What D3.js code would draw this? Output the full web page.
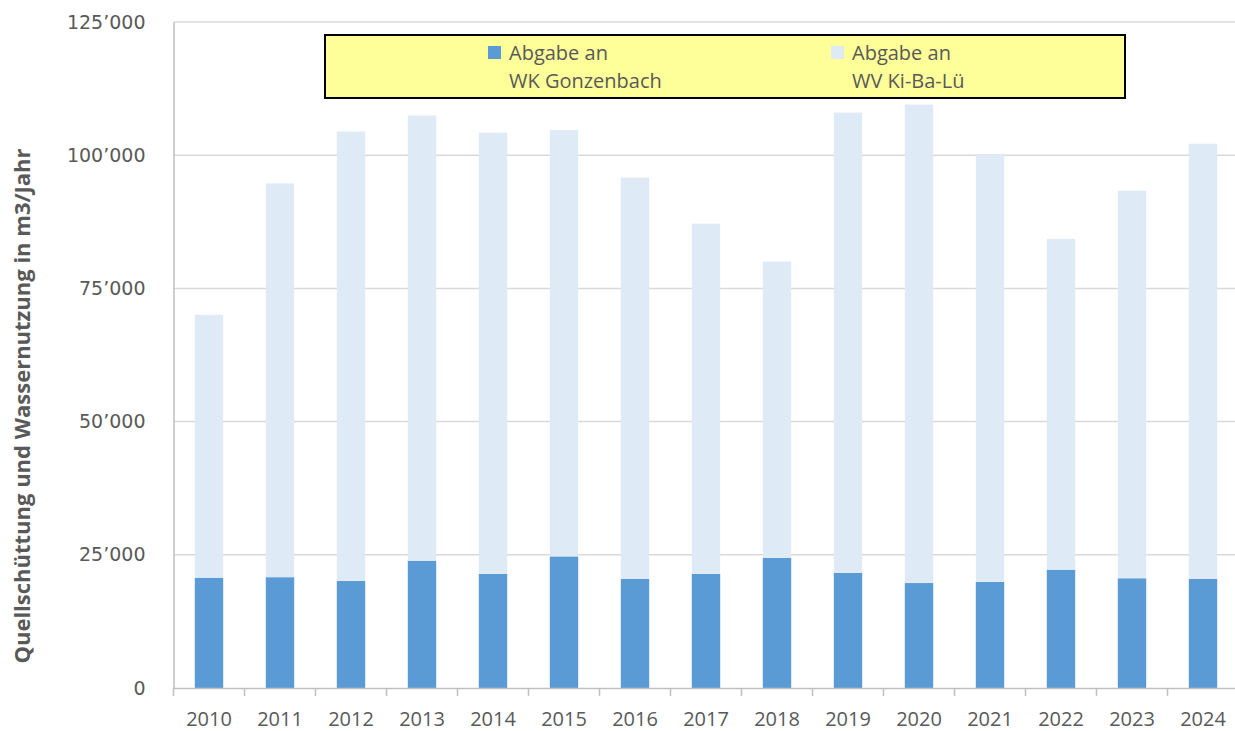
<!DOCTYPE html>
<html>
<head>
<meta charset="utf-8">
<script src="https://cdn.jsdelivr.net/npm/d3@7"></script>
<style>
  body { margin: 0; background: #fff; }
  svg { display: block; }
</style>
</head>
<body>
<svg id="chart" width="1235" height="731"></svg>
<script>
const years = ["2010","2011","2012","2013","2014","2015","2016","2017","2018","2019","2020","2021","2022","2023","2024"];
// Abgabe an WK Gonzenbach (m3/Jahr)
const gonzenbach = [20700, 20800, 20100, 23900, 21400, 24700, 20500, 21400, 24400, 21600, 19700, 19900, 22200, 20600, 20500];
// total per year (Gonzenbach + Ki-Ba-Lü)
const totals = [70050, 94700, 104450, 107450, 104250, 104700, 95800, 87150, 80050, 108000, 109500, 100250, 84300, 93350, 102150];
const kibalu = totals.map((t, i) => t - gonzenbach[i]);
const yTicks = [0, 25000, 50000, 75000, 100000, 125000];
const seriesNames = [["Abgabe an", "WK Gonzenbach"], ["Abgabe an", "WV Ki-Ba-Lü"]];
const colors = ["#5b9bd5", "#deebf7"];

const svg = d3.select("#chart");
const plotLeft = 173.5, plotRight = 1238.5, plotTop = 22, plotBottom = 688;

const x = d3.scaleBand()
  .domain(years)
  .range([plotLeft, plotRight])
  .paddingInner(0.6)
  .paddingOuter(0.3);

const y = d3.scaleLinear()
  .domain([0, 125000])
  .range([plotBottom, plotTop]);

const fmt = v => d3.format(",")(v).replace(/,/g, "\u2019");

// gridlines
svg.append("g")
  .selectAll("line")
  .data(yTicks.filter(d => d > 0))
  .join("line")
  .attr("x1", plotLeft).attr("x2", 1235)
  .attr("y1", d => y(d)).attr("y2", d => y(d))
  .attr("stroke", "#d9d9d9")
  .attr("stroke-width", 1.5);

// stacked bars
const rows = years.map((yr, i) => ({ year: yr, g: gonzenbach[i], k: kibalu[i] }));
const stack = d3.stack().keys(["g", "k"])(rows);

svg.append("g")
  .selectAll("g")
  .data(stack)
  .join("g")
  .attr("fill", (d, i) => colors[i])
  .selectAll("rect")
  .data(d => d)
  .join("rect")
  .attr("x", d => x(d.data.year))
  .attr("width", x.bandwidth())
  .attr("y", d => y(d[1]))
  .attr("height", d => y(d[0]) - y(d[1]));

// y axis
const yAxis = svg.append("g")
  .attr("transform", `translate(${plotLeft},0)`)
  .call(d3.axisLeft(y).tickValues(yTicks).tickFormat(fmt).tickSize(0).tickPadding(28));
yAxis.select(".domain").attr("stroke", "#bfbfbf").attr("stroke-width", 1.5);
yAxis.selectAll("text")
  .attr("fill", "#595959")
  .style("font-family", "DejaVu Sans")
  .style("font-size", "19px");

// x axis
const xAxis = svg.append("g")
  .attr("transform", `translate(0,${plotBottom})`)
  .call(d3.axisBottom(x).tickSize(0).tickPadding(24));
xAxis.select(".domain").attr("stroke", "#bfbfbf").attr("stroke-width", 1.5);
xAxis.selectAll("text")
  .attr("fill", "#595959")
  .style("font-family", "Open Sans")
  .style("font-size", "20px");

// category separator ticks
svg.append("g")
  .selectAll("line")
  .data(years)
  .join("line")
  .attr("x1", d => x(d) - x.step() * 0.3)
  .attr("x2", d => x(d) - x.step() * 0.3)
  .attr("y1", plotBottom).attr("y2", plotBottom + 8)
  .attr("stroke", "#bfbfbf")
  .attr("stroke-width", 1.5);

// y axis title
svg.append("text")
  .attr("transform", "translate(30,406) rotate(-90)")
  .attr("text-anchor", "middle")
  .attr("fill", "#595959")
  .style("font-family", "Open Sans")
  .style("font-weight", "bold")
  .style("font-size", "22px")
  .text("Quellschüttung und Wassernutzung in m3/Jahr");

// legend
const legend = svg.append("g");
legend.append("rect")
  .attr("x", 325).attr("y", 35)
  .attr("width", 800).attr("height", 63)
  .attr("fill", "#ffff99")
  .attr("stroke", "#000")
  .attr("stroke-width", 2);

const legX = [488, 831];
const item = legend.selectAll("g.item")
  .data(seriesNames)
  .join("g")
  .attr("class", "item")
  .attr("transform", (d, i) => `translate(${legX[i]},0)`);
item.append("rect")
  .attr("x", 0).attr("y", 46)
  .attr("width", 13).attr("height", 13)
  .attr("fill", (d, i) => colors[i]);
item.append("text")
  .attr("x", 21)
  .attr("fill", "#595959")
  .style("font-family", "Open Sans")
  .style("font-size", "20px")
  .selectAll("tspan")
  .data(d => d)
  .join("tspan")
  .attr("x", 21)
  .attr("y", (d, i) => 60 + i * 28)
  .text(d => d);
</script>
</body>
</html>
